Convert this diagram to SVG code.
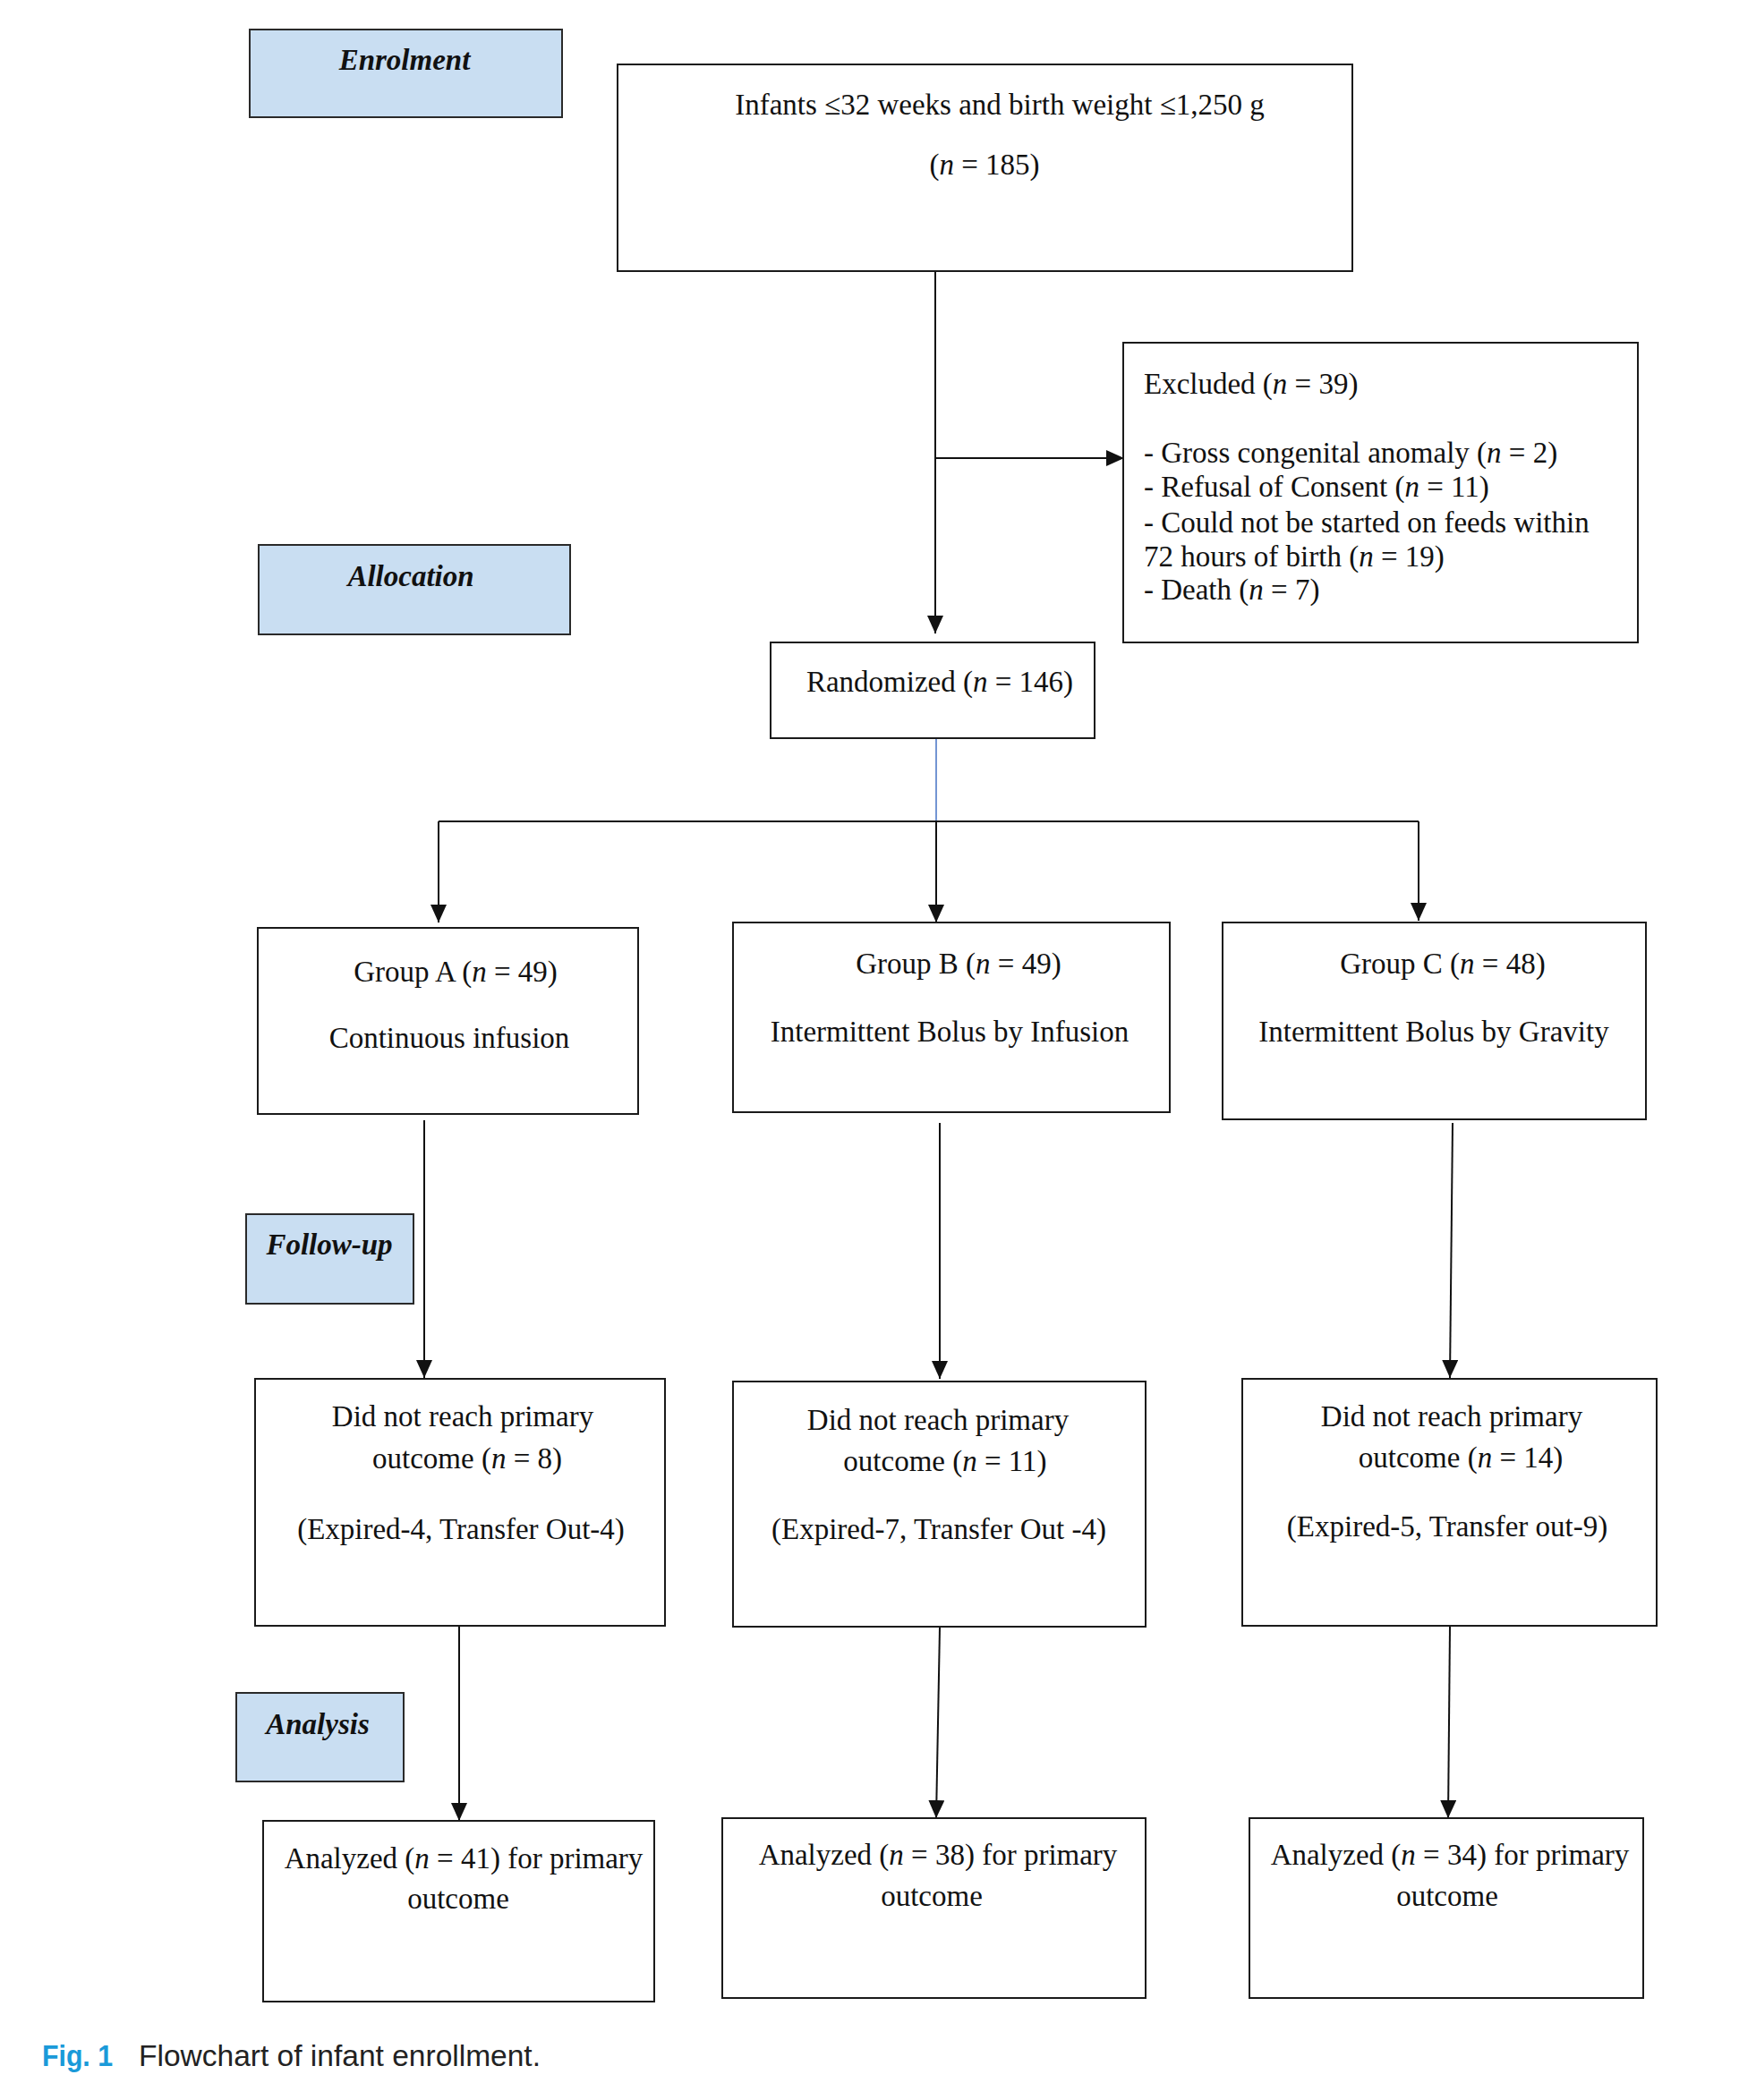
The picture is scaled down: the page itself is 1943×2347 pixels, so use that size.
<svg xmlns="http://www.w3.org/2000/svg" width="1943" height="2347" viewBox="0 0 1943 2347">
<style>
.box{fill:#fff;stroke:#1a1a1a;stroke-width:2}
.phase{fill:#c9def2;stroke:#2a2a2a;stroke-width:2}
.t{font-family:"Liberation Serif","Times New Roman",serif;font-size:33px;fill:#111}
.c{text-anchor:middle}
.ph{font-family:"Liberation Serif","Times New Roman",serif;font-size:33px;font-weight:bold;font-style:italic;fill:#111;text-anchor:middle}
.con{fill:none;stroke:#111;stroke-width:2}
.i{font-style:italic}
</style>
<defs>
<marker id="ah" markerUnits="userSpaceOnUse" markerWidth="20" markerHeight="18" viewBox="0 0 20 18" refX="20" refY="9" orient="auto">
<path d="M0,0 L20,9 L0,18 z" fill="#111"/>
</marker>
</defs>
<rect width="1943" height="2347" fill="#fff"/>

<g id="connectors">
<path class="con" d="M1045,303 V708" marker-end="url(#ah)"/>
<path class="con" d="M1046,512 H1256" marker-end="url(#ah)"/>
<path d="M1046,825 V918" fill="none" stroke="#4472c4" stroke-width="1.5"/>
<path class="con" d="M490,918 H1585"/>
<path class="con" d="M490,918 V1031" marker-end="url(#ah)"/>
<path class="con" d="M1046,918 V1031" marker-end="url(#ah)"/>
<path class="con" d="M1585,918 V1029" marker-end="url(#ah)"/>
<path class="con" d="M474,1252 V1540" marker-end="url(#ah)"/>
<path class="con" d="M1050,1255 V1541" marker-end="url(#ah)"/>
<path class="con" d="M1623,1255 L1620,1540" marker-end="url(#ah)"/>
<path class="con" d="M513,1818 V2035" marker-end="url(#ah)"/>
<path class="con" d="M1050,1819 L1046,2032" marker-end="url(#ah)"/>
<path class="con" d="M1620,1818 L1618,2032" marker-end="url(#ah)"/>
</g>

<g id="phase-enrolment">
<rect class="phase" x="279" y="33" width="349" height="98"/>
<text class="ph" x="452" y="78">Enrolment</text>
</g>
<g id="phase-allocation">
<rect class="phase" x="289" y="609" width="348" height="100"/>
<text class="ph" x="459" y="655">Allocation</text>
</g>
<g id="phase-followup">
<rect class="phase" x="275" y="1357" width="187" height="100"/>
<text class="ph" x="368" y="1402">Follow-up</text>
</g>
<g id="phase-analysis">
<rect class="phase" x="264" y="1892" width="187" height="99"/>
<text class="ph" x="355" y="1938">Analysis</text>
</g>

<g id="node-infants">
<rect class="box" x="690" y="72" width="821" height="231"/>
<text class="t c" x="1117" y="128">Infants ≤32 weeks and birth weight ≤1,250 g</text>
<text class="t c" x="1100" y="195">(<tspan class="i">n</tspan> = 185)</text>
</g>

<g id="node-excluded">
<rect class="box" x="1255" y="383" width="575" height="335"/>
<text class="t" x="1278" y="440">Excluded (<tspan class="i">n</tspan> = 39)</text>
<text class="t" x="1278" y="517">- Gross congenital anomaly (<tspan class="i">n</tspan> = 2)</text>
<text class="t" x="1278" y="555">- Refusal of Consent (<tspan class="i">n</tspan> = 11)</text>
<text class="t" x="1278" y="595">- Could not be started on feeds within</text>
<text class="t" x="1278" y="633">72 hours of birth (<tspan class="i">n</tspan> = 19)</text>
<text class="t" x="1278" y="670">- Death (<tspan class="i">n</tspan> = 7)</text>
</g>

<g id="node-randomized">
<rect class="box" x="861" y="718" width="362" height="107"/>
<text class="t c" x="1050" y="773">Randomized (<tspan class="i">n</tspan> = 146)</text>
</g>

<g id="node-groupA">
<rect class="box" x="288" y="1037" width="425" height="208"/>
<text class="t c" x="509" y="1097">Group A (<tspan class="i">n</tspan> = 49)</text>
<text class="t c" x="502" y="1171">Continuous infusion</text>
</g>
<g id="node-groupB">
<rect class="box" x="819" y="1031" width="488" height="212"/>
<text class="t c" x="1071" y="1088">Group B (<tspan class="i">n</tspan> = 49)</text>
<text class="t c" x="1061" y="1164">Intermittent Bolus by Infusion</text>
</g>
<g id="node-groupC">
<rect class="box" x="1366" y="1031" width="473" height="220"/>
<text class="t c" x="1612" y="1088">Group C (<tspan class="i">n</tspan> = 48)</text>
<text class="t c" x="1602" y="1164">Intermittent Bolus by Gravity</text>
</g>

<g id="node-dnrA">
<rect class="box" x="285" y="1541" width="458" height="276"/>
<text class="t c" x="517" y="1594">Did not reach primary</text>
<text class="t c" x="522" y="1641">outcome (<tspan class="i">n</tspan> = 8)</text>
<text class="t c" x="515" y="1720">(Expired-4, Transfer Out-4)</text>
</g>
<g id="node-dnrB">
<rect class="box" x="819" y="1544" width="461" height="274"/>
<text class="t c" x="1048" y="1598">Did not reach primary</text>
<text class="t c" x="1056" y="1644">outcome (<tspan class="i">n</tspan> = 11)</text>
<text class="t c" x="1049" y="1720">(Expired-7, Transfer Out -4)</text>
</g>
<g id="node-dnrC">
<rect class="box" x="1388" y="1541" width="463" height="276"/>
<text class="t c" x="1622" y="1594">Did not reach primary</text>
<text class="t c" x="1632" y="1640">outcome (<tspan class="i">n</tspan> = 14)</text>
<text class="t c" x="1617" y="1717">(Expired-5, Transfer out-9)</text>
</g>

<g id="node-analyzedA">
<rect class="box" x="294" y="2035" width="437" height="202"/>
<text class="t c" x="518" y="2088">Analyzed (<tspan class="i">n</tspan> = 41) for primary</text>
<text class="t c" x="512" y="2133">outcome</text>
</g>
<g id="node-analyzedB">
<rect class="box" x="807" y="2032" width="473" height="201"/>
<text class="t c" x="1048" y="2084">Analyzed (<tspan class="i">n</tspan> = 38) for primary</text>
<text class="t c" x="1041" y="2130">outcome</text>
</g>
<g id="node-analyzedC">
<rect class="box" x="1396" y="2032" width="440" height="201"/>
<text class="t c" x="1620" y="2084">Analyzed (<tspan class="i">n</tspan> = 34) for primary</text>
<text class="t c" x="1617" y="2130">outcome</text>
</g>

<g id="caption">
<text x="47" y="2309" font-family="'Liberation Sans',Arial,sans-serif" font-size="34" font-weight="bold" fill="#1a9ad9" textLength="79" lengthAdjust="spacingAndGlyphs">Fig. 1</text>
<text x="155" y="2309" font-family="'Liberation Sans',Arial,sans-serif" font-size="34" fill="#222" textLength="449" lengthAdjust="spacingAndGlyphs">Flowchart of infant enrollment.</text>
</g>
</svg>
